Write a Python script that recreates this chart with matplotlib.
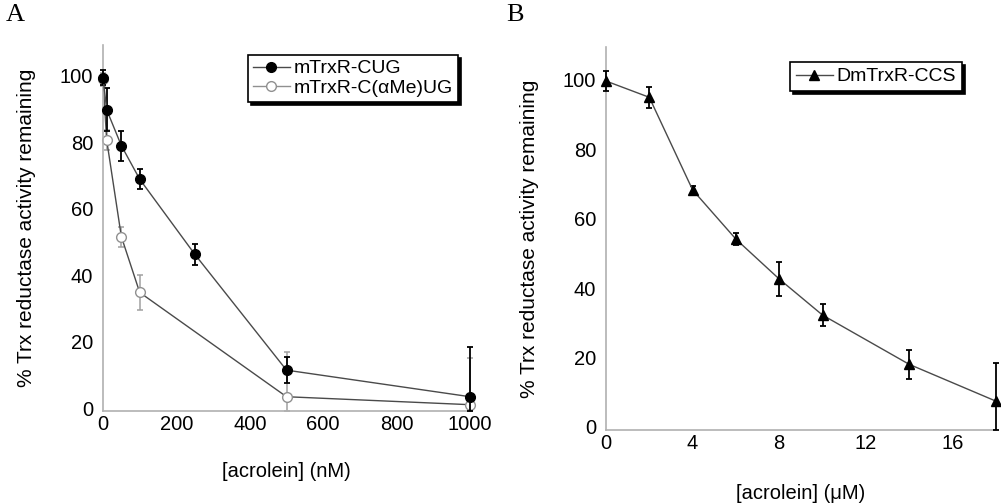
import matplotlib
matplotlib.use("Agg")
import matplotlib.pyplot as plt
from matplotlib.lines import Line2D

# Panel A data
a_x = [0, 10, 50, 100, 250, 500, 1000]
cug_y = [99.5, 89.8, 79.0, 68.9, 46.3, 11.4, 3.4]
cug_err = [2.2, 6.5, 4.5, 3.0, 3.2, 4.0, 15.0]
ame_x = [0, 10, 50, 100, 500, 1000]
ame_y = [99.0, 80.7, 51.6, 34.8, 3.4, 1.0]
ame_err = [2.0, 3.0, 3.0, 5.2, 13.5, 14.0]

# Panel B data
b_x = [0, 2, 4, 6, 8, 10, 14, 18]
ccs_y = [99.7, 95.0, 68.3, 54.1, 42.6, 32.2, 18.0, 7.4]
ccs_err = [3.0, 3.0, 1.1, 1.8, 5.0, 3.2, 4.2, 11.0]

a_xticks = [0, 200, 400, 600, 800, 1000]
b_xticks = [0, 4, 8, 12, 16]
yticks = [0, 20, 40, 60, 80, 100]

plt.rcParams['font.family'] = ['Liberation Sans', 'DejaVu Sans']

W, H = 1001, 504
fig = plt.figure(figsize=(W / 100, H / 100), dpi=100)

def fr(l, r, b, t):
    return [l / W, 1 - b / H, (r - l) / W, (b - t) / H]

axA = fig.add_axes(fr(103, 470, 411, 45))
axB = fig.add_axes(fr(606, 995.7, 430, 46.7))

line_col = '#4a4a4a'
spine_col = '#b0b0b0'
FS = 14.5

def style(ax):
    for s in ['top', 'right']:
        ax.spines[s].set_visible(False)
    for s in ['left', 'bottom']:
        ax.spines[s].set_color(spine_col)
        ax.spines[s].set_linewidth(1.2)
    ax.tick_params(axis='x', length=0, labelsize=FS, pad=3)
    ax.tick_params(axis='y', length=0, labelsize=FS, pad=7)

def asym(y, e, floor):
    lo = [min(ei, yi - floor) for yi, ei in zip(y, e)]
    return [lo, e]

# Panel A
yloA = -0.9
axA.errorbar(a_x, cug_y, yerr=asym(cug_y, cug_err, yloA), color=line_col, lw=1.0,
             marker='o', ms=7, mfc='black', mec='black', ecolor='black', elinewidth=1.3,
             capsize=2.5, capthick=1.3, clip_on=False, zorder=3)
axA.errorbar(ame_x, ame_y, yerr=asym(ame_y, ame_err, yloA), color=line_col, lw=1.0,
             marker='o', ms=7, mfc='white', mec='#909090', ecolor='#a0a0a0',
             elinewidth=1.1, capsize=2.5, capthick=1.1, clip_on=False, zorder=2)
axA.set_xlim(0, 1000)
axA.set_ylim(yloA, 109.3)
axA.set_xticks(a_xticks)
axA.set_yticks(yticks)
style(axA)
axA.set_xlabel('[acrolein] (nM)', fontsize=FS, labelpad=20)
axA.set_ylabel('% Trx reductase activity remaining', fontsize=15, labelpad=17)
hA = [Line2D([], [], color=line_col, lw=1.0, marker='o', ms=7, mfc='black', mec='black'),
      Line2D([], [], color='#909090', lw=1.0, marker='o', ms=7, mfc='white', mec='#909090')]
legA = axA.legend(hA, ['mTrxR-CUG', 'mTrxR-C(αMe)UG'], loc='upper right',
                  bbox_to_anchor=(0.967, 0.973), fontsize=14,
                  frameon=True, fancybox=False, shadow={'color': 'black', 'alpha': 1.0},
                  borderpad=0.25, labelspacing=0.1, handlelength=1.9, handletextpad=0.2,
                  borderaxespad=0)
legA.get_frame().set_edgecolor('black')
legA.get_frame().set_linewidth(1.2)

# Panel B
yloB = -0.95
axB.errorbar(b_x, ccs_y, yerr=asym(ccs_y, ccs_err, yloB), color=line_col, lw=1.0,
             marker='^', ms=7, mfc='black', mec='black', ecolor='black', elinewidth=1.3,
             capsize=2.5, capthick=1.3, clip_on=False, zorder=3)
axB.set_xlim(0, 18)
axB.set_ylim(yloB, 109.6)
axB.set_xticks(b_xticks)
axB.set_yticks(yticks)
style(axB)
axB.set_xlabel('[acrolein] (μM)', fontsize=FS, labelpad=22)
axB.set_ylabel('% Trx reductase activity remaining', fontsize=15, labelpad=17)
hB = [Line2D([], [], color=line_col, lw=1.0, marker='^', ms=7, mfc='black', mec='black')]
legB = axB.legend(hB, ['DmTrxR-CCS'], loc='upper right', bbox_to_anchor=(0.913, 0.96),
                  fontsize=14, frameon=True, fancybox=False,
                  shadow={'color': 'black', 'alpha': 1.0},
                  borderpad=0.3, handlelength=1.9, handletextpad=0.2, borderaxespad=0)
legB.get_frame().set_edgecolor('black')
legB.get_frame().set_linewidth(1.2)

fig.text(6 / W, 1 - 4 / H, 'A', fontsize=19, family='Liberation Serif', va='top', ha='left')
fig.text(506 / W, 1 - 4 / H, 'B', fontsize=19, family='Liberation Serif', va='top', ha='left')

fig.savefig('out.png', dpi=100)
